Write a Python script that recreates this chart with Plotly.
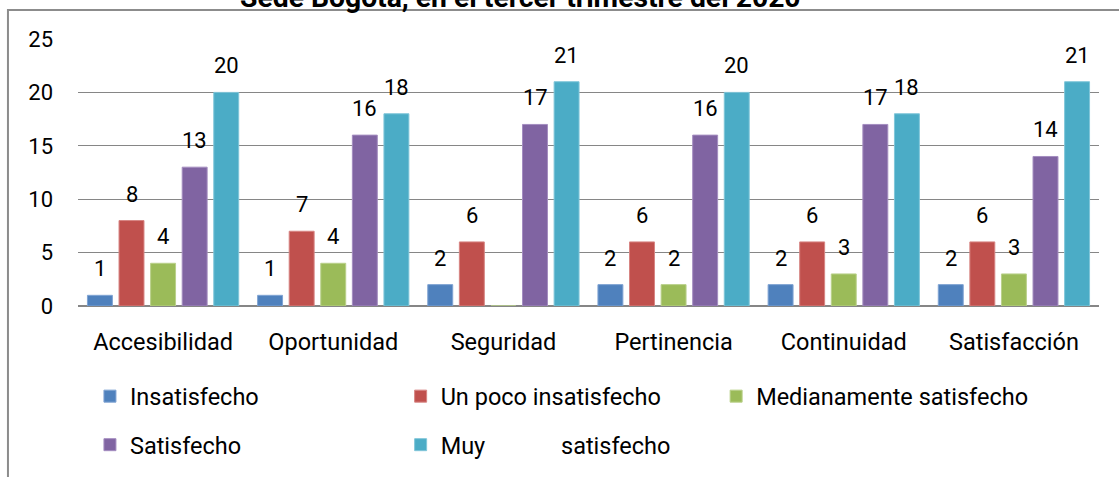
import plotly.graph_objects as go

categories = ["Accesibilidad", "Oportunidad", "Seguridad", "Pertinencia", "Continuidad", "Satisfacción"]
series_names = ["Insatisfecho", "Un poco insatisfecho", "Medianamente satisfecho", "Satisfecho", "Muy satisfecho"]
legend_labels = ["Insatisfecho", "Un poco insatisfecho", "Medianamente satisfecho", "Satisfecho",
                 "Muy" + "\u00a0" * 12 + " satisfecho"]
insatisfecho = [1, 1, 2, 2, 2, 2]
un_poco = [8, 7, 6, 6, 6, 6]
medianamente = [4, 4, 0, 2, 3, 3]
satisfecho = [13, 16, 17, 16, 17, 14]
muy_satisfecho = [20, 18, 21, 20, 18, 21]
y_ticks = [0, 5, 10, 15, 20, 25]
title_text = "Sede Bogotá, en el tercer trimestre del 2020"

series_values = [insatisfecho, un_poco, medianamente, satisfecho, muy_satisfecho]
colors = ["#4F81BD", "#C0504D", "#9BBB59", "#8064A2", "#4BACC6"]
edge_colors = ["#7FA3D3", "#D78583", "#B9D08A", "#A48DC0", "#80C6D9"]
legend_ids = ["legend", "legend2", "legend3", "legend", "legend2"]

FONT = "Roboto, 'Open Sans', sans-serif"
BARGAP = 0.072
BARGROUPGAP = 0.21

fig = go.Figure()
for name, lab, vals, col, ec, lg in zip(series_names, legend_labels, series_values, colors, edge_colors, legend_ids):
    fig.add_trace(go.Bar(
        x=categories, y=vals, name=lab, legendgroup=name, legend=lg,
        marker=dict(color=col, line=dict(color=ec, width=1)),
        hoverinfo="skip",
    ))

# value labels above bars (zero values are not labelled)
n = len(series_values)
slot = (1 - BARGAP) / n
for j, vals in enumerate(series_values):
    for i, v in enumerate(vals):
        if v == 0:
            continue
        fig.add_annotation(
            x=i + (j - (n - 1) / 2) * slot, y=v, xref="x", yref="y",
            text=str(v), showarrow=False, yanchor="bottom", yshift=12,
            font=dict(family=FONT, size=22, color="#000000"),
        )

# partially visible title (cut at the top edge, as in the original)
fig.add_annotation(
    x=0.433, y=1.088, xref="paper", yref="paper", text="<b>" + title_text + "</b>",
    showarrow=False, yanchor="bottom", xanchor="center",
    font=dict(family=FONT, size=28.3, color="#000000"),
)

# chart frame (left and top edges visible)
fig.add_shape(type="rect", xref="paper", yref="paper",
              x0=-0.0686, x1=1.2, y0=-0.8, y1=1.1086,
              line=dict(color="#8C8C8C", width=2), layer="above")

legend_common = dict(
    orientation="v", traceorder="grouped", tracegroupgap=15,
    font=dict(family=FONT, size=23.5, color="#000000"),
    bgcolor="rgba(0,0,0,0)", itemwidth=30, xanchor="left", yanchor="top",
)
fig.update_layout(
    width=1119, height=477,
    margin=dict(l=78, r=20, t=39, b=171, autoexpand=False),
    paper_bgcolor="white", plot_bgcolor="white",
    barmode="group", bargap=BARGAP, bargroupgap=BARGROUPGAP,
    showlegend=True,
    legend=dict(x=0.0117, y=-0.256, **legend_common),
    legend2=dict(x=0.316, y=-0.256, **legend_common),
    legend3=dict(x=0.625, y=-0.256, **legend_common),
    font=dict(family=FONT, size=22, color="#000000"),
)
fig.update_xaxes(
    type="category", showgrid=False, showline=False, ticks="",
    tickfont=dict(family=FONT, size=23.5, color="#000000"),
    ticklabelstandoff=19, zeroline=False,
)
fig.update_yaxes(
    range=[0, 25], tickvals=y_ticks, showgrid=True, gridcolor="#868686", gridwidth=1,
    zeroline=True, zerolinecolor="#868686", zerolinewidth=1.5,
    showline=False, ticks="", ticklabelstandoff=24,
    tickfont=dict(family=FONT, size=22, color="#000000"),
)

fig.write_html("out.html", config={"displayModeBar": False},
               post_script="document.body.style.margin='0';")
